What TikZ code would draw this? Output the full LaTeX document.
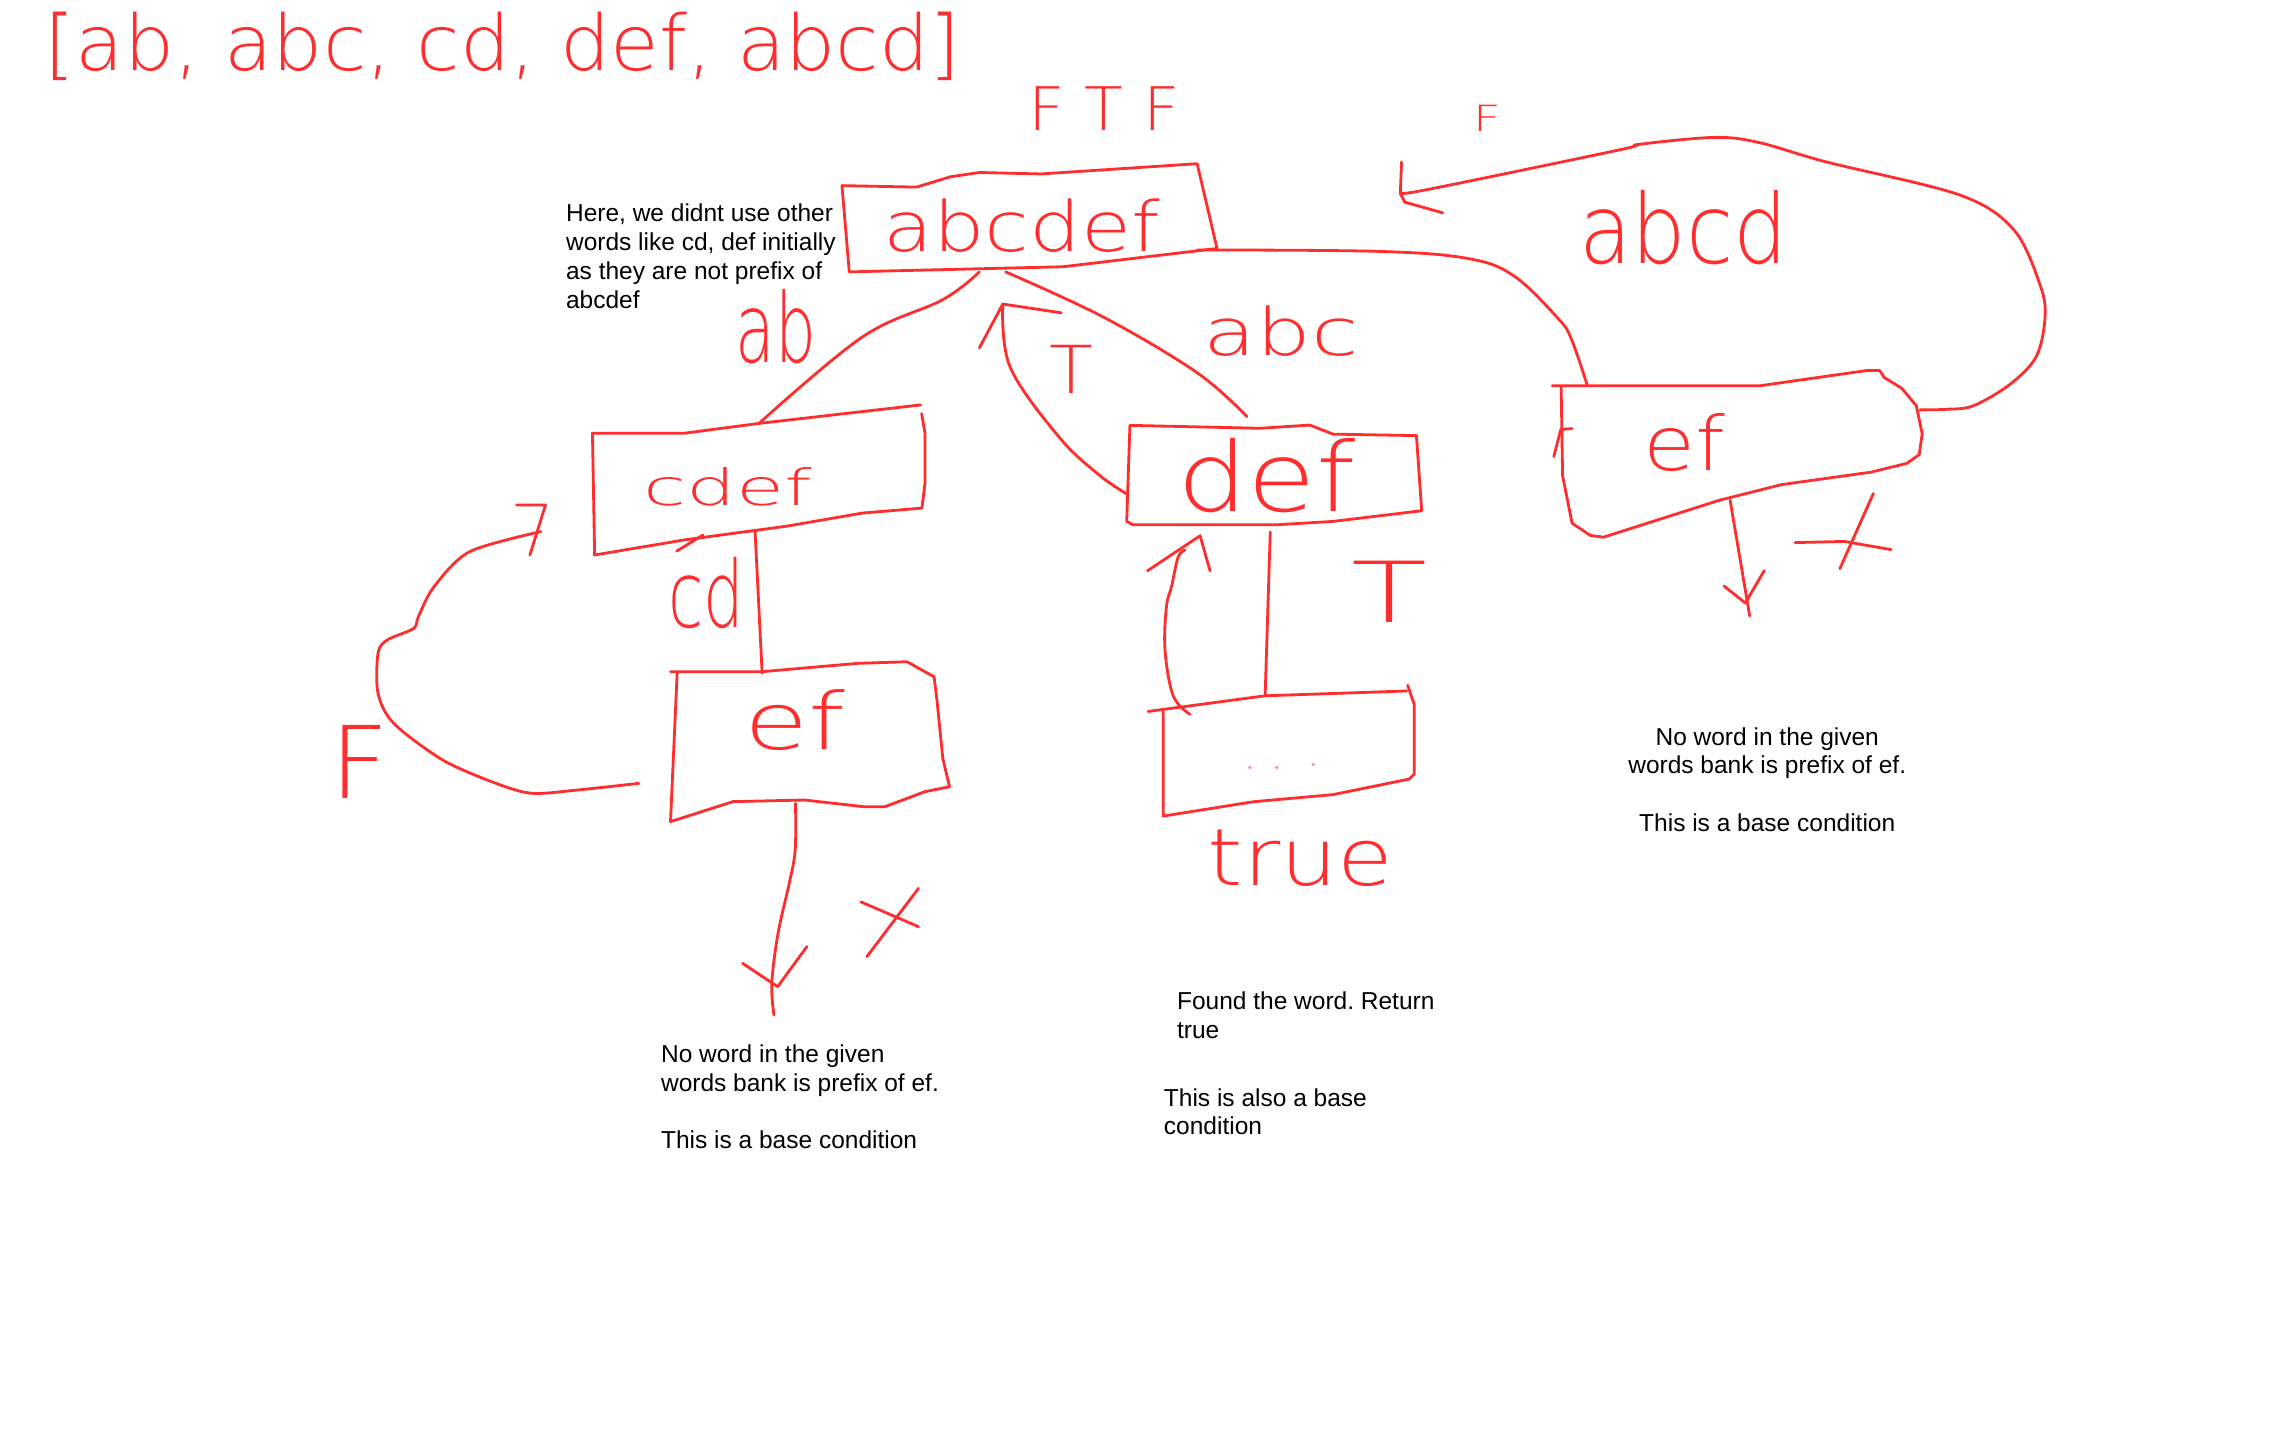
\documentclass[tikz,border=0pt]{standalone}
\usepackage{fontspec}
\usepackage{graphicx}
\setmainfont{Liberation Sans}
\IfFontExistsTF{DejaVu Sans ExtraLight}
  {\newfontfamily\handfont{DejaVu Sans ExtraLight}}
  {\newfontfamily\handfont{DejaVu Sans}}
\frenchspacing
\definecolor{ink}{RGB}{255,45,45}
\definecolor{dotink}{RGB}{255,150,150}
\newlength\un
\setlength\un{0.73087pt}
% a pen-written word, stretched to a width and a height above its baseline (drawing units)
\newcommand\pen[3]{\resizebox{#1\un}{#2\un}{\handfont #3}}
\tikzset{
  stroke/.style={draw=ink, line width=1.4pt, line cap=round, line join=round},
  word/.style={text=ink, inner sep=0pt, anchor=base west},
  note/.style={text=black, inner sep=0pt, align=left, anchor=north west,
    font=\fontsize{12.25pt}{14.4pt}\selectfont},
}
\begin{document}
\begin{tikzpicture}[x=0.73087pt, y=-0.73087pt]
\useasboundingbox (0,0) rectangle (1568,996);
\fill[white] (0,0) rectangle (1568,996);

% ---------- word bank and results ----------
\node[word] (bank) at (30.5,48) {\pen{626}{40}{[ab, abc, cd, def, abcd]}};
\node[word] (ftf) at (703,89) {\pen{104}{30}{F T F}};
\node[word] (fR) at (1008,90) {\pen{19}{18}{F}};

% ---------- nodes (hand-drawn boxes) ----------
% root: abcdef
\draw[stroke] (576,127) -- (627,128) -- (650,121) -- (670,118) -- (712,119) -- (819,112)
  -- (832.6,170) -- (727,182.5) -- (581,186) -- cycle;
\node[word] (root) at (604,172) {\pen{189}{36}{abcdef}};

% cdef
\draw[stroke] (406.8,379.7) -- (405.3,296.4) -- (468,296.4) -- (519.8,289.6) -- (629.8,277);
\draw[stroke] (630.5,283) -- (632.8,296.4) -- (632.8,330.5) -- (630.7,347.6) -- (590,351)
  -- (538,360) -- (468,369.4) -- (406.8,379.7);
\draw[stroke] (463,377) -- (481,366);
\node[word] (cdef) at (440,346) {\pen{115}{26}{cdef}};

% ef (left)
\draw[stroke] (458.7,459.5) -- (521.4,459.5) -- (587,453.8) -- (620.5,452.7) -- (639,463)
  -- (641,479) -- (645,519) -- (649.6,538.2) -- (632.8,541.6) -- (605.3,551.9) -- (591,551.9)
  -- (550.4,547.3) -- (501.5,548.4) -- (458.7,562.1) -- (463.3,459.5);
\node[word] (efL) at (509,513) {\pen{69}{41}{ef}};

% def
\draw[stroke] (773,291) -- (862,293) -- (896,290.8) -- (912,297) -- (969,298)
  -- (972.6,349.4) -- (912,356.7) -- (873.4,359) -- (775,359) -- (770.8,356.7) -- cycle;
\node[word] (def) at (805,350) {\pen{122}{50}{def}};

% empty remainder
\draw[stroke] (785.5,486.7) -- (865.5,476) -- (962.4,472.7);
\draw[stroke] (963,468.8) -- (967.5,482) -- (967.5,529.5) -- (964,533) -- (912,543.6)
  -- (857.4,548.5) -- (795.8,558.3) -- (795.8,487);
\foreach \dx/\dy in {855/525, 873.4/525, 898.4/523}
  \fill[dotink] (\dx,\dy) circle (1.3);

% ef (right)
\draw[stroke] (1062,263.9) -- (1204,263.9) -- (1277,253.5) -- (1286,253.5) -- (1289,258.3)
  -- (1301,265.6) -- (1311,277.6) -- (1315,296.7) -- (1313,311) -- (1304.5,317) -- (1280,323)
  -- (1219,331.5) -- (1176,342.3) -- (1097,367.5) -- (1088,366.3) -- (1075.5,358)
  -- (1069,325.5) -- (1068,263.9);
\draw[stroke] (1075.5,293.2) -- (1067.8,293.8) -- (1063,312.3);
\node[word] (efR) at (1124,322) {\pen{56}{39}{ef}};

% ---------- connector end points ----------
\coordinate (root-ab) at (670,186);
\coordinate (root-abc) at (688,186);
\coordinate (root-up) at (686,208);
\coordinate (root-E) at (819,171);
\coordinate (cdef-N) at (520,289);
\coordinate (cdef-S) at (516.5,362.6);
\coordinate (cdef-back) at (370,363.7);
\coordinate (efL-N) at (521.4,460.5);
\coordinate (efL-W) at (437,535.9);
\coordinate (efL-S) at (544.2,549.6);
\coordinate (efL-end) at (529.5,694.4);
\coordinate (def-N) at (853,285);
\coordinate (def-W) at (771,338);
\coordinate (def-S) at (869,364);
\coordinate (def-up) at (821,366.5);
\coordinate (rest-N) at (865.5,476);
\coordinate (rest-W) at (814,488.6);
\coordinate (efR-N) at (1086,264);
\coordinate (efR-E) at (1313.6,280.4);
\coordinate (efR-S) at (1183.6,342.3);
\coordinate (efR-end) at (1197,421.4);
\coordinate (back-tip) at (958,132.4);

% ---------- branches ----------
\draw[stroke] plot[smooth, tension=0.6] coordinates {(root-ab) (645,205) (590,230.5) (cdef-N)};
\node[word] (lab-ab) at (503,248) {\pen{55}{50}{ab}};

\draw[stroke] plot[smooth, tension=0.6] coordinates {(root-abc) (755,217) (819,255) (def-N)};
\node[word] (lab-abc) at (823,243) {\pen{106}{34}{abc}};

\draw[stroke] plot[smooth, tension=0.6] coordinates
  {(root-E) (944,172) (1005,177) (1036,189) (1066,218) (1075,232) (efR-N)};
\node[word] (lab-abcd) at (1080,180) {\pen{143}{50}{abcd}};

\draw[stroke] (cdef-S) -- (efL-N);
\node[word] (lab-cd) at (457,429) {\pen{52}{48}{cd}};

\draw[stroke] (def-S) -- (rest-N);

% ---------- returns ----------
% T back to the root
\draw[stroke] plot[smooth, tension=0.6] coordinates {(def-W) (752,325) (724.5,299) (691,251) (root-up)};
\draw[stroke] (670,238) -- (root-up) -- (726,214);
\node[word] (lab-T1) at (718,269) {\pen{30}{33}{T}};

% T back to def
\draw[stroke] plot[smooth, tension=0.6] coordinates
  {(rest-W) (802.6,476) (797,444.7) (798,415) (801.6,400.7) (806,381) (810.7,376.3)};
\draw[stroke] (785,390.5) -- (def-up) -- (827.8,390.5);
\node[word] (lab-T2) at (924,426) {\pen{52}{42}{T}};

% F back to cdef
\draw[stroke] plot[smooth, tension=0.5] coordinates
  {(efL-W) (394.6,540.5) (364,542.7) (339.6,536) (303,520) (269.4,494.9) (258.6,474.3)
   (258.6,447) (264.8,437.9) (283,429.9) (286.2,421.9) (296.9,401.4) (321.3,377.4) (cdef-back)};
\draw[stroke] (353.4,345.5) -- (373.2,345.5) -- (362.5,379.7);
\node[word] (lab-F1) at (226,546) {\pen{40}{50}{F}};

% F back to the root
\draw[stroke] plot[smooth, tension=0.55] coordinates
  {(efR-E) (1332,280) (1350,277.6) (1375,263) (1393,244) (1399,217.6) (1396,196) (1378,157.6)
   (1341,133.5) (1249.5,110.8) (1203.7,97.6) (1173,94) (1121,98.8) (1109,102.3) (981,128.8) (back-tip)};
\draw[stroke] (958.8,110.8) -- (back-tip) -- (961,138.3) -- (987,145.6);

% ---------- dead ends ----------
\draw[stroke] plot[smooth, tension=0.6] coordinates
  {(efL-S) (544,581.5) (540,604) (532.3,638.4) (528,672.6) (efL-end)};
\draw[stroke] (508,659) -- (532,675) -- (552,647.6);
\draw[stroke] (589,617) -- (628.4,634);
\draw[stroke] (628.4,607.7) -- (593,654.5);

\draw[stroke] (efR-S) -- (efR-end);
\draw[stroke] (1179.5,401) -- (1194,412.5) -- (1207,390.3);
\draw[stroke] (1228,371.2) -- (1261.6,370.4) -- (1293.7,376);
\draw[stroke] (1281.6,337.6) -- (1258.7,389);

% ---------- result word ----------
\node[word] (lab-true) at (826,606) {\pen{127}{38}{true}};

% ---------- notes ----------
\node[note] (note-root) at (387,139.3)
  {Here, we didnt use other\\words like cd, def initially\\as they are not prefix of\\abcdef};
\node[note] (note-left) at (452,714.3)
  {No word in the given\\words bank is prefix of ef.\\[14.4pt]This is a base condition};
\node[note] (note-found) at (805,678.3) {Found the word. Return\\true};
\node[note] (note-also) at (796,744.3) {This is also a base\\condition};
\node[note, align=center, anchor=north] (note-right) at (1209,497.3)
  {No word in the given\\words bank is prefix of ef.\\[14.4pt]This is a base condition};
\end{tikzpicture}
\end{document}
